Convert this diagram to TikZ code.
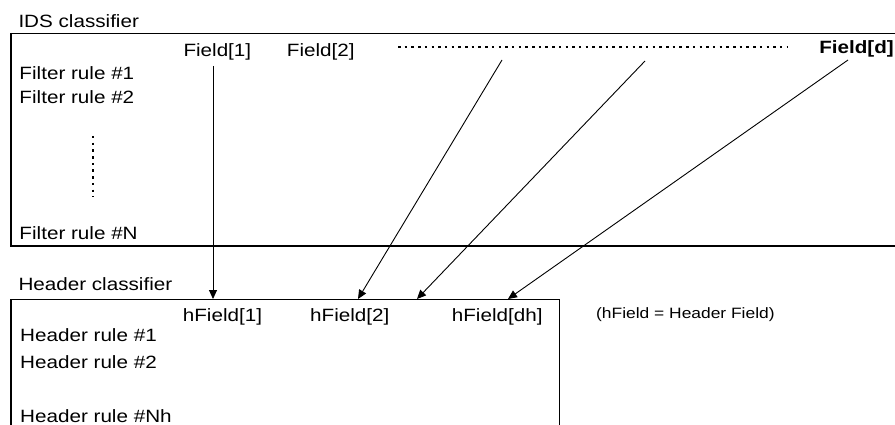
\documentclass[tikz,border=0pt]{standalone}
\usepackage{fontspec}
\setmainfont{Liberation Sans}[FakeStretch=1.16]
\usetikzlibrary{arrows.meta}
\begin{document}
\begin{tikzpicture}[x=1pt,y=-1pt,
  lbl/.style={inner sep=0pt, anchor=base west, font=\fontsize{17.8}{20}\selectfont},
  notelbl/.style={inner sep=0pt, anchor=base west, font=\fontsize{15}{18}\selectfont},
  thinside/.style={line width=0.9pt},
  thickside/.style={line width=2.2pt},
  dotline/.style={line width=2pt, dash pattern=on 2.5pt off 4.2pt},
  arr/.style={line width=0.9pt, -{Triangle[width=8pt,length=9pt]}}]
\useasboundingbox (0,0) rectangle (895,425);

% IDS classifier box
\draw[thinside] (10,33) -- (895,33);
\draw[thickside] (11,33) -- (11,246) -- (895,246);

% Header classifier box
\draw[thinside] (10,299) -- (559,299) -- (559,425);
\draw[thickside] (11,299) -- (11,425);

% labels
\node[lbl] (ids) at (18.3,27.3) {IDS classifier};
\node[lbl] (f1) at (183.3,57) {Field[1]};
\node[lbl] (f2) at (286.7,57) {Field[2]};
\node[lbl, anchor=base east, font=\fontsize{17.8}{20}\selectfont\bfseries] (fd) at (894,54) {Field[d]};
\node[lbl] (r1) at (19.3,79.3) {Filter rule \#1};
\node[lbl] (r2) at (19.3,103.3) {Filter rule \#2};
\node[lbl] (rN) at (19.3,239.3) {Filter rule \#N};

\node[lbl] (hdr) at (18.3,290.7) {Header classifier};
\node[lbl] (hf1) at (182.7,321.5) {hField[1]};
\node[lbl] (hf2) at (310,321.5) {hField[2]};
\node[lbl] (hfd) at (451.7,321.5) {hField[dh]};
\node[notelbl] (note) at (596,318.3) {(hField = Header Field)};
\node[lbl] (h1) at (20,341.7) {Header rule \#1};
\node[lbl] (h2) at (20,368.3) {Header rule \#2};
\node[lbl] (hN) at (20,422) {Header rule \#Nh};

% dotted lines
\coordinate (dv1) at (93,136);
\coordinate (dv2) at (93,197);
\draw[dotline] (dv1) -- (dv2);
\coordinate (dh1) at (398,46.7);
\coordinate (dh2) at (787,46.7);
\draw[dotline] (dh1) -- (dh2);

% arrows
\coordinate (s1) at (213,66);
\coordinate (s2) at (502,60);
\coordinate (s3) at (645,61);
\coordinate (s4) at (848,60);
\coordinate (t1) at (213,299);
\coordinate (t2) at (358,299);
\coordinate (t3) at (417,299);
\coordinate (t4) at (508,299);
\draw[arr] (s1) -- (t1);
\draw[arr] (s2) -- (t2);
\draw[arr] (s3) -- (t3);
\draw[arr] (s4) -- (t4);
\end{tikzpicture}
\end{document}
